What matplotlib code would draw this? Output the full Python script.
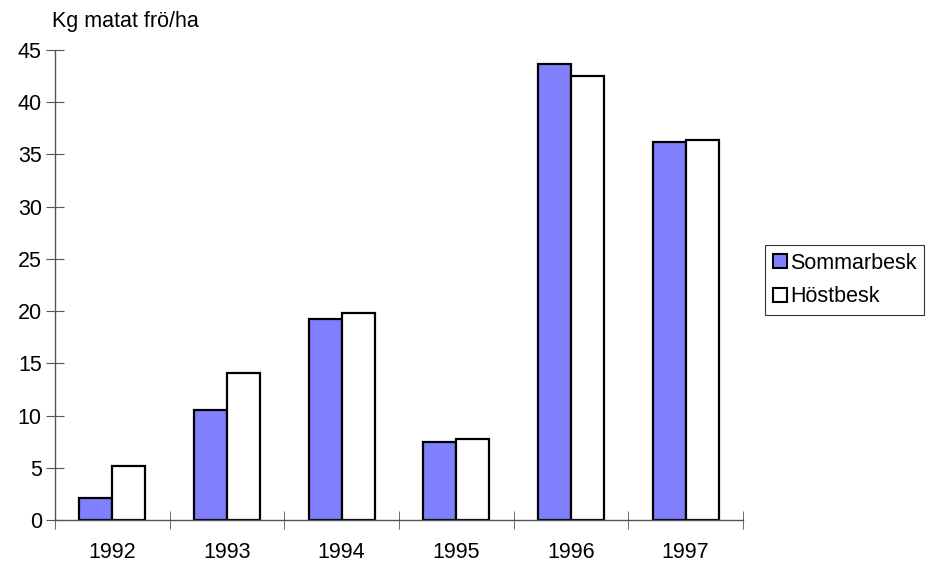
import numpy as np
import matplotlib.pyplot as plt
from matplotlib.patches import Patch

years = ['1992', '1993', '1994', '1995', '1996', '1997']
sommar = [2.1, 10.5, 19.2, 7.5, 43.7, 36.2]
host = [5.2, 14.1, 19.8, 7.8, 42.5, 36.4]

plt.rcParams['font.family'] = ['Liberation Sans', 'DejaVu Sans']
fs = 15.5

fig = plt.figure(figsize=(9.3, 5.65), dpi=100)
ax = fig.add_axes([55/930, 45/565, 688/930, 470/565])

x = np.arange(len(years))
w = 0.288
ax.bar(x - w/2, sommar, w, color='#8080ff', edgecolor='black', linewidth=1.6)
ax.bar(x + w/2, host, w, color='white', edgecolor='black', linewidth=1.6)

ax.set_xlim(-0.5, len(years) - 0.5)
ax.set_ylim(0, 45)
ax.set_yticks(range(0, 46, 5))
ax.set_xticks(x)
ax.set_xticklabels(years)
ax.set_xticks(np.arange(-0.5, len(years)), minor=True)
ax.tick_params(axis='x', which='major', length=0, pad=16, labelsize=fs)
ax.tick_params(axis='x', which='minor', direction='inout', length=13, color='#555555')
ax.tick_params(axis='y', direction='inout', length=13, color='#555555', labelsize=fs, pad=3)

for s in ['top', 'right']:
    ax.spines[s].set_visible(False)
for s in ['left', 'bottom']:
    ax.spines[s].set_color('#555555')
    ax.spines[s].set_linewidth(1.0)

fig.text(52/930, 1 - 22/565, 'Kg matat frö/ha', fontsize=fs, va='center', ha='left')

handles = [Patch(facecolor='#8080ff', edgecolor='black', linewidth=1.5, label='Sommarbesk'),
           Patch(facecolor='white', edgecolor='black', linewidth=1.5, label='Höstbesk')]
leg = fig.legend(handles=handles, loc='upper left', bbox_to_anchor=(765/930, 1 - 245/565),
                 fontsize=fs, frameon=True, fancybox=False, handlelength=0.65, handleheight=0.65,
                 handletextpad=0.15, borderpad=0.35, labelspacing=0.6, borderaxespad=0)
leg.get_frame().set_edgecolor('black')
leg.get_frame().set_linewidth(0.8)

fig.savefig('out.png', dpi=100)
